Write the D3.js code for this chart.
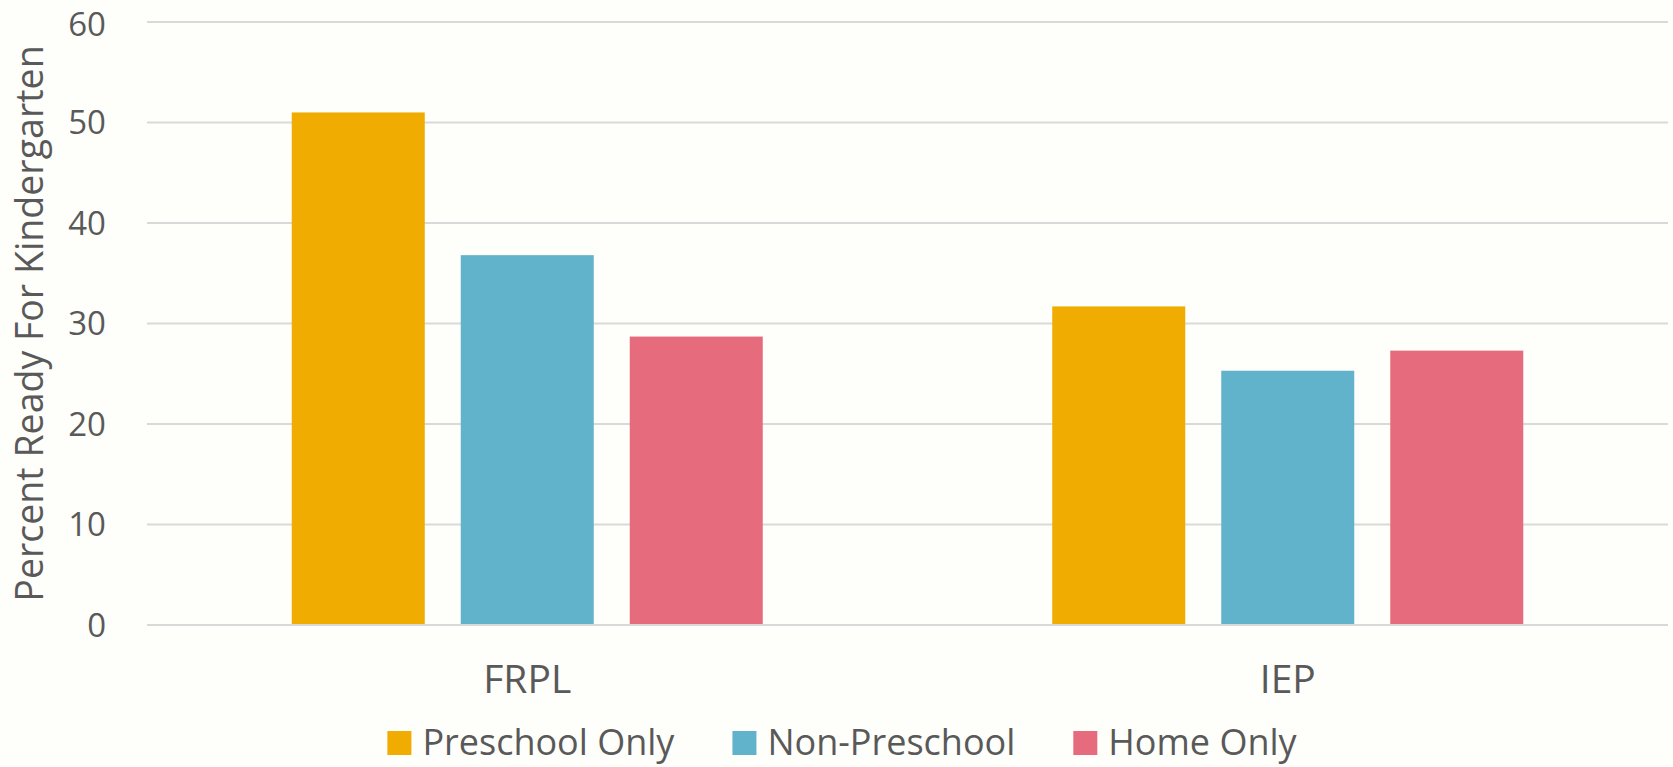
<!DOCTYPE html>
<html>
<head>
<meta charset="utf-8">
<script src="https://cdn.jsdelivr.net/npm/d3@7"></script>
<style>
  html, body { margin: 0; padding: 0; background: #fefefa; }
  svg { display: block; }
  text { font-family: "Open Sans", sans-serif; fill: #595959; }
</style>
</head>
<body>
<svg width="1673" height="767"></svg>
<script>
// data
const groups = ["FRPL", "IEP"];
const seriesNames = ["Preschool Only", "Non-Preschool", "Home Only"];
const seriesColors = ["#f0ac00", "#61b3cc", "#e66c7d"];
const preschoolOnly = [51.0, 31.7];
const nonPreschool = [36.8, 25.3];
const homeOnly = [28.7, 27.3];
const yTicks = [0, 10, 20, 30, 40, 50, 60];

const values = [preschoolOnly, nonPreschool, homeOnly];

const width = 1673,
  height = 767;
const margin = { top: 22, right: 5, bottom: 142, left: 147 };

const svg = d3.select("svg");

const x0 = d3
  .scaleBand()
  .domain(groups)
  .range([margin.left, width - margin.right])
  .padding(0);

const x1 = d3
  .scaleBand()
  .domain(seriesNames)
  .range([0, x0.bandwidth()])
  .paddingInner(0.213)
  .paddingOuter(0.8565);

const y = d3
  .scaleLinear()
  .domain([0, 60])
  .range([height - margin.bottom, margin.top]);

// gridlines
svg
  .append("g")
  .selectAll("line")
  .data(yTicks)
  .enter()
  .append("line")
  .attr("x1", margin.left)
  .attr("x2", width - margin.right)
  .attr("y1", d => y(d))
  .attr("y2", d => y(d))
  .attr("stroke", "#d9d9d9")
  .attr("stroke-width", 2);

// y tick labels
svg
  .append("g")
  .selectAll("text")
  .data(yTicks)
  .enter()
  .append("text")
  .attr("x", 106)
  .attr("y", d => y(d))
  .attr("dy", d => (d === 60 ? "0.42em" : "0.35em"))
  .attr("text-anchor", "end")
  .style("font-size", "33px")
  .text(d => d);

// bars
const groupG = svg
  .append("g")
  .selectAll("g")
  .data(groups)
  .enter()
  .append("g")
  .attr("transform", d => `translate(${x0(d)},0)`);

groupG
  .selectAll("rect")
  .data((g, gi) => seriesNames.map((s, si) => ({ s, si, v: values[si][gi] })))
  .enter()
  .append("rect")
  .attr("x", d => x1(d.s))
  .attr("width", x1.bandwidth())
  .attr("y", d => y(d.v))
  .attr("height", d => y(0) - 1 - y(d.v))
  .attr("fill", d => seriesColors[d.si]);

// category labels
svg
  .append("g")
  .selectAll("text")
  .data(groups)
  .enter()
  .append("text")
  .attr("x", d => x0(d) + x0.bandwidth() / 2)
  .attr("y", 693)
  .attr("text-anchor", "middle")
  .style("font-size", "39px")
  .text(d => d);

// y axis title
svg
  .append("text")
  .attr("transform", `translate(43,${(y(0) + y(60)) / 2}) rotate(-90)`)
  .attr("text-anchor", "middle")
  .style("font-size", "37.5px")
  .text("Percent Ready For Kindergarten");

// legend
const legend = svg.append("g");
const items = legend
  .selectAll("g")
  .data(seriesNames)
  .enter()
  .append("g");
items
  .append("rect")
  .attr("width", 24)
  .attr("height", 24)
  .attr("y", 731)
  .attr("fill", (d, i) => seriesColors[i]);
items
  .append("text")
  .attr("x", 35)
  .attr("y", 755)
  .style("font-size", "36px")
  .text(d => d);

let offset = 0;
const widths = [];
items.each(function() {
  const w = 35 + d3.select(this).select("text").node().getComputedTextLength();
  widths.push(w);
});
const total = d3.sum(widths) + 58 * (widths.length - 1);
offset = 842 - total / 2;
items.attr("transform", (d, i) => {
  const t = `translate(${offset},0)`;
  offset += widths[i] + 58;
  return t;
});
</script>
</body>
</html>
